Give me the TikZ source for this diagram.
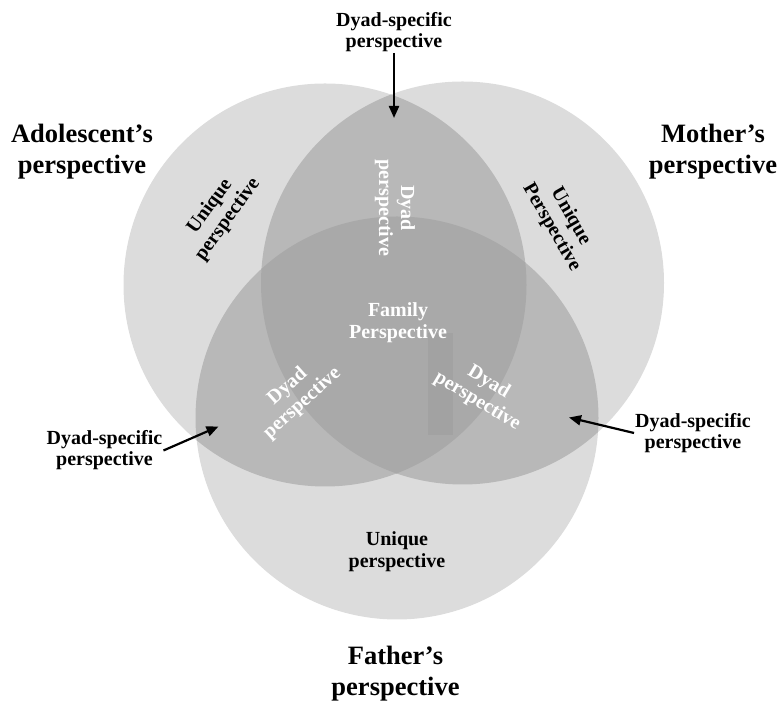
\documentclass[tikz,border=0pt]{standalone}
\usepackage{fontspec}
\setmainfont{Liberation Serif}
\usetikzlibrary{arrows.meta}
\definecolor{oneC}{HTML}{DCDCDC}
\definecolor{twoC}{HTML}{B8B8B8}
\definecolor{threeC}{HTML}{A9A9A9}
\definecolor{rectC}{HTML}{A2A2A2}
\begin{document}
\begin{tikzpicture}[x=1pt,y=1pt,
  lbl/.style={font=\bfseries\fontsize{20}{21}\selectfont, align=center, inner sep=1pt},
  biglbl/.style={font=\bfseries\fontsize{26.5}{31}\selectfont, align=center, inner sep=1pt},
  wlbl/.style={font=\bfseries\fontsize{20}{22}\selectfont, align=center, inner sep=1pt, text=white},
  ulbl/.style={font=\bfseries\fontsize{20}{22}\selectfont, align=center, inner sep=1pt},
  arr/.style={line width=2.2pt, -{Triangle[length=12pt,width=10pt]}}]
\useasboundingbox (0,0) rectangle (784,708);
\def\R{201.5}
\coordinate (cA) at (325,423);
\coordinate (cM) at (462.5,425);
\coordinate (cF) at (397,290);
% single regions
\fill[oneC] (cA) circle (\R);
\fill[oneC] (cM) circle (\R);
\fill[oneC] (cF) circle (\R);
% double overlaps
\begin{scope}
  \clip (cA) circle (\R);
  \fill[twoC] (cM) circle (\R);
  \fill[twoC] (cF) circle (\R);
\end{scope}
\begin{scope}
  \clip (cM) circle (\R);
  \fill[twoC] (cF) circle (\R);
\end{scope}
% triple overlap
\begin{scope}
  \clip (cA) circle (\R);
  \clip (cM) circle (\R);
  \fill[threeC] (cF) circle (\R);
\end{scope}
\fill[rectC] (428,273) rectangle (453,375);
% outer labels
\node[biglbl] (adol) at (82,556) {Adolescent’s\\perspective};
\node[biglbl] (moth) at (713,556) {Mother’s\\perspective};
\node[biglbl] (fath) at (395.5,34) {Father’s\\perspective};
% dyad-specific labels with arrows
\node[lbl] (dsTop) at (394,676) {Dyad-specific\\perspective};
\node[lbl] (dsLeft) at (104.5,257.5) {Dyad-specific\\perspective};
\node[lbl] (dsRight) at (693,275) {Dyad-specific\\perspective};
\coordinate (tipTop) at (394,590);
\coordinate (tipLeft) at (218.5,281.5);
\coordinate (tipRight) at (569,290.5);
\draw[arr] (dsTop.south) -- (tipTop);
\draw[arr] (dsLeft.east) -- (tipLeft);
\draw[arr] (dsRight.west) -- (tipRight);
% inner labels
\node[ulbl, rotate=54] (uniA) at (219,495) {Unique\\perspective};
\node[ulbl, rotate=-60] (uniM) at (561,486) {Unique\\Perspective};
\node[ulbl] (uniF) at (397,156) {Unique\\perspective};
\node[wlbl, rotate=-90] (dyAM) at (395,500) {Dyad\\perspective};
\node[wlbl, rotate=42] (dyAF) at (295,313) {Dyad\\perspective};
\node[wlbl, rotate=-31] (dyMF) at (483,316) {Dyad\\perspective};
\node[wlbl] (fam) at (398,385) {Family\\Perspective};
\end{tikzpicture}
\end{document}
